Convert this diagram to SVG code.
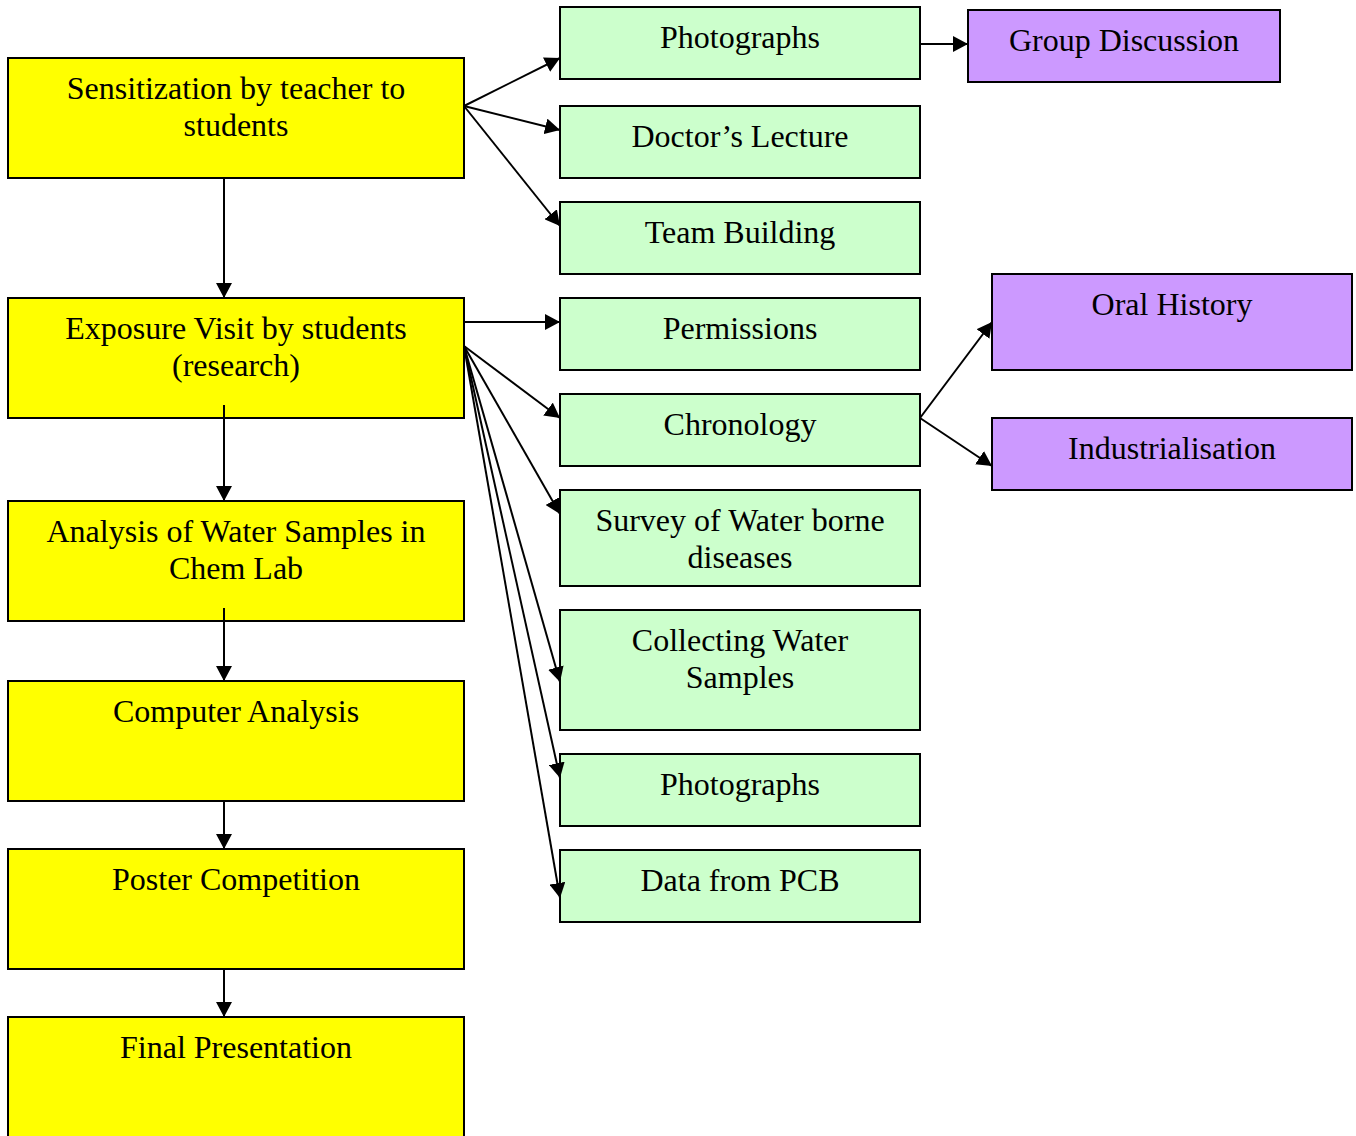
<svg xmlns="http://www.w3.org/2000/svg" width="1356" height="1136" viewBox="0 0 1356 1136">
<style>
rect{stroke:#000;stroke-width:2}
.y{fill:#FFFF00}.g{fill:#CCFFCC}.p{fill:#CC99FF}
text{font-family:"Liberation Serif","Times New Roman",serif;font-size:32px;fill:#000;text-anchor:middle}
.c line{stroke:#000;stroke-width:2;marker-end:url(#ah)}
</style>
<defs><marker id="ah" viewBox="0 0 15 16" refX="15" refY="8" markerWidth="15" markerHeight="16" markerUnits="userSpaceOnUse" orient="auto"><path d="M0,0 L15,8 L0,16 z" fill="#000"/></marker></defs>
<rect width="1356" height="1136" fill="#fff" style="stroke:none"/>
<g id="n1"><rect class="y" x="8" y="58" width="456" height="120"/><text x="236" y="99">Sensitization by teacher to</text><text x="236" y="136">students</text></g>
<g id="n2"><rect class="y" x="8" y="298" width="456" height="120"/><text x="236" y="339">Exposure Visit by students</text><text x="236" y="376">(research)</text></g>
<g id="n3"><rect class="y" x="8" y="501" width="456" height="120"/><text x="236" y="542">Analysis of Water Samples in</text><text x="236" y="579">Chem Lab</text></g>
<g id="n4"><rect class="y" x="8" y="681" width="456" height="120"/><text x="236" y="722">Computer Analysis</text></g>
<g id="n5"><rect class="y" x="8" y="849" width="456" height="120"/><text x="236" y="890">Poster Competition</text></g>
<g id="n6"><rect class="y" x="8" y="1017" width="456" height="130"/><text x="236" y="1058">Final Presentation</text></g>
<g id="g1"><rect class="g" x="560" y="7" width="360" height="72"/><text x="740" y="48">Photographs</text></g>
<g id="g2"><rect class="g" x="560" y="106" width="360" height="72"/><text x="740" y="147">Doctor’s Lecture</text></g>
<g id="g3"><rect class="g" x="560" y="202" width="360" height="72"/><text x="740" y="243">Team Building</text></g>
<g id="g4"><rect class="g" x="560" y="298" width="360" height="72"/><text x="740" y="339">Permissions</text></g>
<g id="g5"><rect class="g" x="560" y="394" width="360" height="72"/><text x="740" y="435">Chronology</text></g>
<g id="g6"><rect class="g" x="560" y="490" width="360" height="96"/><text x="740" y="531">Survey of Water borne</text><text x="740" y="568">diseases</text></g>
<g id="g7"><rect class="g" x="560" y="610" width="360" height="120"/><text x="740" y="651">Collecting Water</text><text x="740" y="688">Samples</text></g>
<g id="g8"><rect class="g" x="560" y="754" width="360" height="72"/><text x="740" y="795">Photographs</text></g>
<g id="g9"><rect class="g" x="560" y="850" width="360" height="72"/><text x="740" y="891">Data from PCB</text></g>
<g id="p1"><rect class="p" x="968" y="10" width="312" height="72"/><text x="1124" y="51">Group Discussion</text></g>
<g id="p2"><rect class="p" x="992" y="274" width="360" height="96"/><text x="1172" y="315">Oral History</text></g>
<g id="p3"><rect class="p" x="992" y="418" width="360" height="72"/><text x="1172" y="459">Industrialisation</text></g>
<g class="c">
<line x1="464" y1="106" x2="560" y2="58"/>
<line x1="464" y1="106" x2="560" y2="130"/>
<line x1="464" y1="106" x2="560" y2="226"/>
<line x1="920" y1="44" x2="968" y2="44"/>
<line x1="464" y1="322" x2="560" y2="322"/>
<line x1="464" y1="346" x2="560" y2="418"/>
<line x1="464" y1="346" x2="560" y2="514"/>
<line x1="464" y1="346" x2="560" y2="682"/>
<line x1="464" y1="346" x2="560" y2="778"/>
<line x1="464" y1="346" x2="560" y2="898"/>
<line x1="920" y1="418" x2="992" y2="322"/>
<line x1="920" y1="418" x2="992" y2="466"/>
<line x1="224" y1="178" x2="224" y2="298"/>
<line x1="224" y1="405" x2="224" y2="501"/>
<line x1="224" y1="608" x2="224" y2="681"/>
<line x1="224" y1="801" x2="224" y2="849"/>
<line x1="224" y1="969" x2="224" y2="1017"/>
</g>
</svg>
